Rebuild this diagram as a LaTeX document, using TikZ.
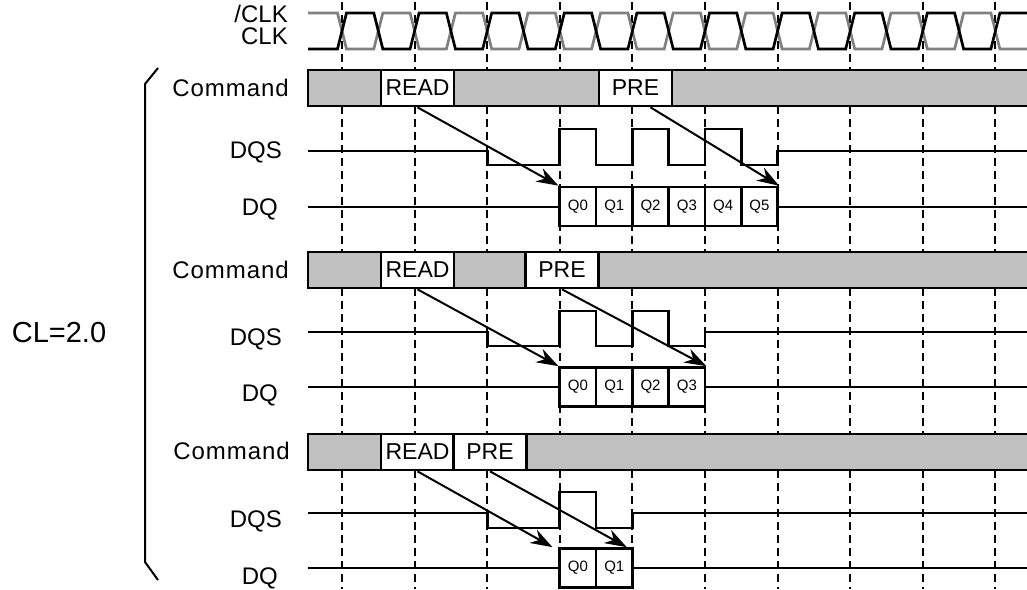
\documentclass[tikz,border=0pt]{standalone}
\usepackage{fontspec}
\setmainfont{Liberation Sans}
\usetikzlibrary{arrows.meta, positioning, calc}
\definecolor{ClkGray}{HTML}{808080}
\definecolor{CmdGray}{HTML}{C0C0C0}

\begin{document}
\begin{tikzpicture}[
    x=1pt, y=-1pt,
    sig/.style={line width=2.7pt},
    clkn/.style={line width=2.7pt, ClkGray},
    dqline/.style={line width=2pt},
    tick/.style={line width=1.9pt, dash pattern=on 8pt off 5pt},
    cmdbox/.style={rectangle, draw, line width=2.7pt, fill=white,
                   minimum width=73pt, minimum height=36pt, inner sep=0pt,
                   font=\fontsize{23}{25}\selectfont},
    dqbox/.style={rectangle, draw, line width=2.7pt, fill=white,
                  minimum width=36.3pt, minimum height=39pt, inner sep=0pt,
                  font=\fontsize{15}{17}\selectfont},
    lbl/.style={anchor=east, inner sep=0pt, font=\fontsize{24}{26}\selectfont},
    cmdlbl/.style={lbl, font=\fontsize{24}{26}\selectfont\addfontfeature{LetterSpace=4}},
    lat/.style={-{Stealth[length=22pt, width=15pt]}, line width=2pt}
]
    \path[use as bounding box] (0,0) rectangle (1027,589);

    % Clock edge grid
    \foreach \k in {0,...,9}
        \draw[tick] ({342+72.6*\k},2) -- ({342+72.6*\k},589);

    % Clocks
    \node[lbl] (nclk) at (288,14) {/CLK};
    \node[lbl] (clk) at (288,36) {CLK};
    \draw[clkn] (308,13) foreach \k in {0,...,8} {
        -- ({337.5+72.6*\k},13) -- ({346.5+72.6*\k},49)
        -- ({373.8+72.6*\k},49) -- ({382.8+72.6*\k},13) }
        -- (990.9,13) -- (999.9,49) -- (1027,49);
    \draw[sig] (308,49) foreach \k in {0,...,8} {
        -- ({337.5+72.6*\k},49) -- ({346.5+72.6*\k},13)
        -- ({373.8+72.6*\k},13) -- ({382.8+72.6*\k},49) }
        -- (990.9,49) -- (999.9,13) -- (1027,13);

    % Latency brace
    \node[font=\fontsize{29}{31}\selectfont] (cl) at (59,333) {CL=2.0};
    \draw[line width=2pt] (158,68) -- (145,84) -- (145,562) -- (158,580);

    % First case: PRE three clocks after READ
    \node[cmdlbl] (cmd1) at (289,88) {Command};
    \node[lbl] (dqs1) at (282,152) {DQS};
    \node[lbl] (dq1) at (278,209) {DQ};

    \fill[CmdGray] (308,70) rectangle (1027,106);
    \draw[sig] (1027,70) -- (308,70) -- (308,106) -- (1027,106);
    \node[cmdbox] (read1) at (417.5,88) {READ};
    \node[cmdbox] (pre1) at (635.5,88) {PRE};

    \draw[sig] (308,151) -- (487.2,151) -- (487.2,165) -- (559.8,165)
        -- (559.8,129) -- (596.1,129) -- (596.1,165) -- (632.4,165)
        -- (632.4,129) -- (668.7,129) -- (668.7,165) -- (705,165)
        -- (705,129) -- (741.3,129) -- (741.3,165) -- (777.6,165)
        -- (777.6,151) -- (1027,151);

    \node[dqbox] (d1q0) at (577.95,206.5) {Q0};
    \node[dqbox] (d1q1) at (614.25,206.5) {Q1};
    \node[dqbox] (d1q2) at (650.55,206.5) {Q2};
    \node[dqbox] (d1q3) at (686.85,206.5) {Q3};
    \node[dqbox] (d1q4) at (723.15,206.5) {Q4};
    \node[dqbox] (d1q5) at (759.45,206.5) {Q5};
    \draw[dqline] (308,206.5) -- (d1q0.west);
    \draw[dqline] (d1q5.east) -- (1027,206.5);

    \draw[lat] (read1.south) -- (d1q0.north west);
    \draw[lat] ([xshift=15pt]pre1.south) -- (d1q5.north east);

    % Second case: PRE two clocks after READ
    \node[cmdlbl] (cmd2) at (289,270) {Command};
    \node[lbl] (dqs2) at (282,339) {DQS};
    \node[lbl] (dq2) at (278,395) {DQ};

    \fill[CmdGray] (308,252) rectangle (1027,288);
    \draw[sig] (1027,252) -- (308,252) -- (308,288) -- (1027,288);
    \node[cmdbox] (read2) at (417.5,270) {READ};
    \node[cmdbox] (pre2) at (562,270) {PRE};

    \draw[sig] (308,332) -- (487.2,332) -- (487.2,346) -- (559.8,346)
        -- (559.8,311) -- (596.1,311) -- (596.1,346) -- (632.4,346)
        -- (632.4,311) -- (668.7,311) -- (668.7,346) -- (705,346)
        -- (705,332) -- (1027,332);

    \node[dqbox] (d2q0) at (577.95,387) {Q0};
    \node[dqbox] (d2q1) at (614.25,387) {Q1};
    \node[dqbox] (d2q2) at (650.55,387) {Q2};
    \node[dqbox] (d2q3) at (686.85,387) {Q3};
    \draw[dqline] (308,387) -- (d2q0.west);
    \draw[dqline] (d2q3.east) -- (1027,387);

    \draw[lat] (read2.south) -- (d2q0.north west);
    \draw[lat] (pre2.south) -- (d2q3.north east);

    % Third case: PRE one clock after READ
    \node[cmdlbl] (cmd3) at (290,451) {Command};
    \node[lbl] (dqs3) at (282,521) {DQS};
    \node[lbl] (dq3) at (278,578) {DQ};

    \fill[CmdGray] (308,434) rectangle (1027,470);
    \draw[sig] (1027,434) -- (308,434) -- (308,470) -- (1027,470);
    \node[cmdbox] (read3) at (417.5,452) {READ};
    \node[cmdbox] (pre3) at (490,452) {PRE};

    \draw[sig] (308,513) -- (487.2,513) -- (487.2,528) -- (559.8,528)
        -- (559.8,492) -- (596.1,492) -- (596.1,528) -- (632.4,528)
        -- (632.4,513) -- (1027,513);

    \node[dqbox] (d3q0) at (577.95,568) {Q0};
    \node[dqbox] (d3q1) at (614.25,568) {Q1};
    \draw[dqline] (308,568) -- (d3q0.west);
    \draw[dqline] (d3q1.east) -- (1027,568);

    \draw[lat] (read3.south) -- ([xshift=-6pt]d3q0.north west);
    \draw[lat] (pre3.south) -- ([xshift=-7pt]d3q1.north east);
\end{tikzpicture}
\end{document}
